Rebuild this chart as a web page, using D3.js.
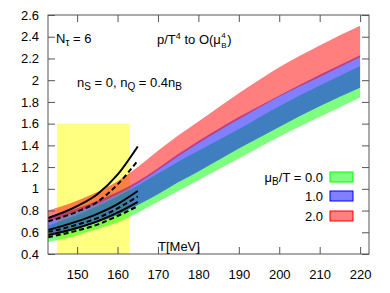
<!DOCTYPE html>
<html>
<head>
<meta charset="utf-8">
<script src="https://cdn.jsdelivr.net/npm/d3@7"></script>
<style>
  body { margin: 0; background: #fff; }
  svg text { font-family: "Liberation Sans", Arial, sans-serif; fill: #000; }
</style>
</head>
<body>
<div id="chart"></div>
<script>
// temperatures (MeV) at which the bands were read
const T = [142.8, 150, 155, 160, 165, 170, 175, 180, 190, 200, 210, 220];
// p/T^4 bands, lower and upper edges
const mu0Lo = [0.51, 0.57, 0.63, 0.69, 0.78, 0.88, 0.98, 1.08, 1.28, 1.48, 1.66, 1.84];
const mu0Hi = [0.66, 0.76, 0.84, 0.93, 1.03, 1.14, 1.25, 1.35, 1.55, 1.76, 1.95, 2.13];
const mu1Lo = [0.56, 0.63, 0.69, 0.76, 0.85, 0.95, 1.06, 1.16, 1.37, 1.57, 1.76, 1.93];
const mu1Hi = [0.74, 0.82, 0.89, 0.97, 1.07, 1.19, 1.32, 1.44, 1.66, 1.86, 2.05, 2.23];
const mu2Lo = [0.70, 0.79, 0.86, 0.95, 1.05, 1.17, 1.30, 1.42, 1.64, 1.85, 2.03, 2.21];
const mu2Hi = [0.80, 0.89, 0.97, 1.07, 1.20, 1.35, 1.49, 1.62, 1.88, 2.12, 2.32, 2.50];

// black curves in the transition region
const TL = [142.8, 150, 155, 160, 165];
const solidLines = [
  [0.73, 0.84, 0.95, 1.13, 1.39],
  [0.62, 0.70, 0.77, 0.86, 0.98],
  [0.575, 0.64, 0.70, 0.78, 0.88]
];
const dashedLines = [
  [0.70, 0.79, 0.88, 1.04, 1.26],
  [0.60, 0.67, 0.73, 0.82, 0.93],
  [0.555, 0.615, 0.67, 0.75, 0.84]
];

// yellow crossover region
const tcRange = [145, 163];
const tcTop = 1.6;

const xTicks = [150, 160, 170, 180, 190, 200, 210, 220];
const yTicks = [0.4, 0.6, 0.8, 1, 1.2, 1.4, 1.6, 1.8, 2, 2.2, 2.4, 2.6];
const legendLabels = ["0.0", "1.0", "2.0"];

const W = 390, H = 293;
const m = { left: 48, right: 369, top: 15, bottom: 254 };

const svg = d3.select("#chart").append("svg")
  .attr("width", W).attr("height", H);

const x = d3.scaleLinear().domain([142.8, 222.2]).range([m.left, m.right]);
const y = d3.scaleLinear().domain([0.4, 2.6]).range([m.bottom, m.top]);

svg.append("defs").append("clipPath").attr("id", "plot")
  .append("rect")
    .attr("x", m.left).attr("y", m.top)
    .attr("width", m.right - m.left).attr("height", m.bottom - m.top);

const g = svg.append("g").attr("clip-path", "url(#plot)");

g.append("rect")
  .attr("x", x(tcRange[0]))
  .attr("y", y(tcTop))
  .attr("width", x(tcRange[1]) - x(tcRange[0]))
  .attr("height", y(0.4) - y(tcTop))
  .attr("fill", "#ffff80");

const area = d3.area()
  .x(d => x(d.t))
  .y0(d => y(d.lo))
  .y1(d => y(d.hi))
  .curve(d3.curveMonotoneX);

const bands = [
  { lo: mu0Lo, hi: mu0Hi, color: "rgb(0,255,0)" },
  { lo: mu1Lo, hi: mu1Hi, color: "rgb(0,0,255)" },
  { lo: mu2Lo, hi: mu2Hi, color: "rgb(255,0,0)" }
];

bands.forEach(b => {
  const pts = T.map((t, i) => ({ t: t, lo: b.lo[i], hi: b.hi[i] }));
  g.append("path")
    .attr("d", area(pts))
    .attr("fill", b.color)
    .attr("fill-opacity", 0.5);
});

const line = d3.line()
  .x(d => x(d[0]))
  .y(d => y(d[1]))
  .curve(d3.curveMonotoneX);

solidLines.forEach(v => {
  g.append("path")
    .attr("d", line(TL.map((t, i) => [t, v[i]])))
    .attr("fill", "none")
    .attr("stroke", "#000")
    .attr("stroke-width", 2);
});
dashedLines.forEach(v => {
  g.append("path")
    .attr("d", line(TL.map((t, i) => [t, v[i]])))
    .attr("fill", "none")
    .attr("stroke", "#000")
    .attr("stroke-width", 2)
    .attr("stroke-dasharray", "5,3");
});

// frame and inward ticks on all sides
const axisColor = "#555";
svg.append("rect")
  .attr("x", m.left).attr("y", m.top)
  .attr("width", m.right - m.left).attr("height", m.bottom - m.top)
  .attr("fill", "none").attr("stroke", axisColor).attr("stroke-width", 1);

svg.append("g")
  .attr("transform", "translate(0," + m.bottom + ")")
  .call(d3.axisBottom(x).tickValues(xTicks).tickSize(-7).tickPadding(16).tickFormat(d3.format("d")))
  .call(a => a.select(".domain").remove())
  .call(a => a.selectAll("line").attr("stroke", axisColor))
  .call(a => a.selectAll("text").style("font-size", "13px").attr("fill", "#000"));

svg.append("g")
  .attr("transform", "translate(0," + m.top + ")")
  .call(d3.axisTop(x).tickValues(xTicks).tickSize(-7).tickFormat(""))
  .call(a => a.select(".domain").remove())
  .call(a => a.selectAll("line").attr("stroke", axisColor));

svg.append("g")
  .attr("transform", "translate(" + m.left + ",0)")
  .call(d3.axisLeft(y).tickValues(yTicks).tickSize(-7).tickPadding(9).tickFormat(d => d3.format("")(+d.toFixed(1))))
  .call(a => a.select(".domain").remove())
  .call(a => a.selectAll("line").attr("stroke", axisColor))
  .call(a => a.selectAll("text").style("font-size", "13px").attr("fill", "#000"));

svg.append("g")
  .attr("transform", "translate(" + m.right + ",0)")
  .call(d3.axisRight(y).tickValues(yTicks).tickSize(-7).tickFormat(""))
  .call(a => a.select(".domain").remove())
  .call(a => a.selectAll("line").attr("stroke", axisColor));

// annotations
const fs = 13;
const nt = svg.append("text").attr("x", 56).attr("y", 43).style("font-size", fs + "px");
nt.append("tspan").text("N");
nt.append("tspan").attr("dy", 3).style("font-size", "10px").text("τ");
nt.append("tspan").attr("dy", -3).text(" = 6");

const pt = svg.append("text").attr("x", 157).attr("y", 44).style("font-size", fs + "px");
pt.append("tspan").text("p/T");
pt.append("tspan").attr("dy", -5).style("font-size", "9px").text("4");
pt.append("tspan").attr("dy", 5).text(" to O(μ");
const pw = pt.node().getComputedTextLength();
svg.append("text").attr("x", 157 + pw + 0.5).attr("y", 37.5).style("font-size", "8px").text("4");
svg.append("text").attr("x", 157 + pw + 0.5).attr("y", 48).style("font-size", "8px").text("B");
svg.append("text").attr("x", 157 + pw + 6.5).attr("y", 44).style("font-size", fs + "px").text(")");

const nq = svg.append("text").attr("x", 77).attr("y", 87).style("font-size", fs + "px");
nq.append("tspan").text("n");
nq.append("tspan").attr("dy", 3).style("font-size", "10px").text("S");
nq.append("tspan").attr("dy", -3).text(" = 0, n");
nq.append("tspan").attr("dy", 3).style("font-size", "10px").text("Q");
nq.append("tspan").attr("dy", -3).text(" = 0.4n");
nq.append("tspan").attr("dy", 3).style("font-size", "10px").text("B");

svg.append("text").attr("x", 158).attr("y", 251).style("font-size", fs + "px").text("T[MeV]");

// legend
const legY = [177, 196, 216];
legendLabels.forEach((lab, i) => {
  const t = svg.append("text")
    .attr("x", 323).attr("y", legY[i] + 5)
    .attr("text-anchor", "end")
    .style("font-size", fs + "px");
  if (i === 0) {
    t.append("tspan").text("μ");
    t.append("tspan").attr("dy", 3).style("font-size", "10px").text("B");
    t.append("tspan").attr("dy", -3).text("/T = " + lab);
  } else {
    t.text(lab);
  }
  svg.append("rect")
    .attr("x", 330).attr("y", legY[i] - 5)
    .attr("width", 23).attr("height", 10)
    .attr("fill", bands[i].color).attr("fill-opacity", 0.5)
    .attr("stroke", bands[i].color).attr("stroke-width", 1);
});
</script>
</body>
</html>
